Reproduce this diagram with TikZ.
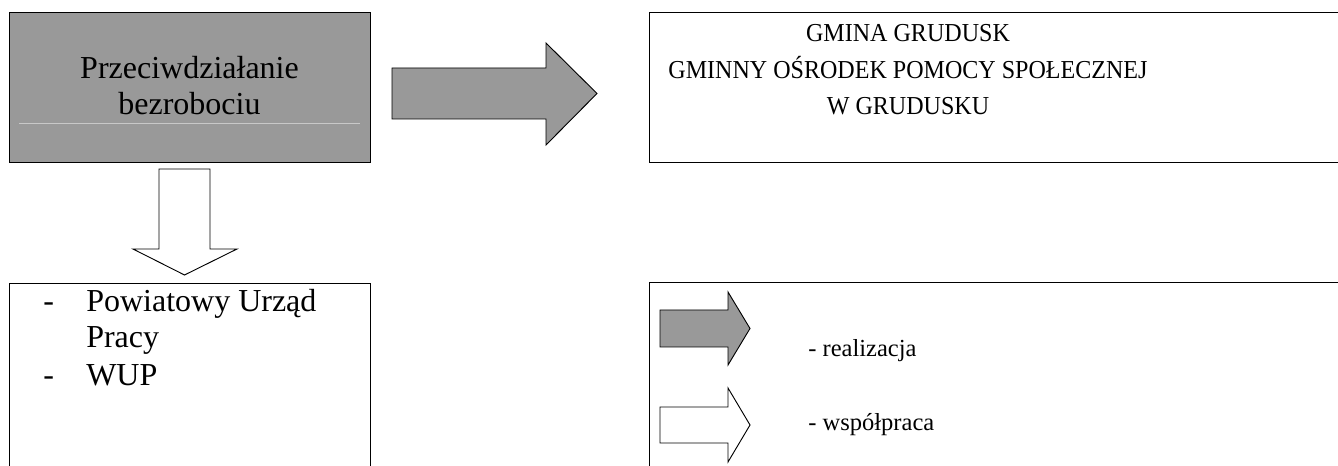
\documentclass[tikz,border=0pt]{standalone}
\usepackage{fontspec}
\setmainfont{Liberation Serif}
\definecolor{boxgray}{HTML}{999999}
\definecolor{faint}{HTML}{C8C8C8}
\newcommand{\narrowtext}[1]{\scalebox{0.93}[1]{#1}}
\begin{document}
\begin{tikzpicture}[x={(0.75pt,0)}, y={(0,-0.75pt)},
  frame/.style={draw=black, line width=1pt, rectangle, inner sep=0pt, anchor=north west},
  blockarrow/.style={draw=black, line width=0.7pt, line join=miter},
  bigtxt/.style={font=\fontsize{24pt}{27pt}\selectfont, inner sep=0pt, anchor=base},
  midtxt/.style={font=\fontsize{19.4pt}{23pt}\selectfont, inner sep=0pt, anchor=base},
  legtxt/.style={font=\fontsize{18.4pt}{22pt}\selectfont, inner sep=0pt, anchor=base west}]
\useasboundingbox (0,0) rectangle (1338,466);
\clip (0,0) rectangle (1338,466);
% boxes
\node[frame, fill=boxgray, minimum width=270.75pt, minimum height=112.5pt] (task) at (9,12) {};
\node[frame, minimum width=525pt, minimum height=112.5pt] (gops) at (649,12) {};
\node[frame, minimum width=270.75pt, minimum height=150pt] (partners) at (9,283) {};
\node[frame, minimum width=525pt, minimum height=150pt] (legend) at (649,282) {};
% faint line inside grey box
\draw[faint, line width=0.5pt] (19,123) -- (360,123);
% texts
\node[bigtxt] (t1) at (189.5,79) {Przeciwdziałanie};
\node[bigtxt] (t2) at (189.5,115) {bezrobociu};
\node[midtxt] (g1) at (908,41.7) {\narrowtext{GMINA GRUDUSK}};
\node[midtxt] (g2) at (908,78.3) {\narrowtext{GMINNY OŚRODEK POMOCY SPOŁECZNEJ}};
\node[midtxt] (g3) at (908,115) {\narrowtext{W GRUDUSKU}};
\node[bigtxt, anchor=base west] (d1) at (43,312) {-};
\node[bigtxt, anchor=base west] (p1) at (86,312) {Powiatowy Urząd};
\node[bigtxt, anchor=base west] (p2) at (86,348) {Pracy};
\node[bigtxt, anchor=base west] (d2) at (43,385) {-};
\node[bigtxt, anchor=base west] (p3) at (86,385) {WUP};
\node[legtxt] (l1) at (808,357) {- realizacja};
\node[legtxt] (l2) at (808,430.5) {- współpraca};
% block arrows
\draw[blockarrow, fill=boxgray] (392,68) -- (546,68) -- (546,43) -- (597,93.5) -- (546,145) -- (546,119) -- (392,119) -- cycle;
\draw[blockarrow, fill=white] (159,169) -- (210,169) -- (210,249) -- (237,249) -- (184.5,275) -- (133,249) -- (159,249) -- cycle;
\draw[blockarrow, fill=boxgray] (660,310) -- (728,310) -- (728,292) -- (750,328.5) -- (728,365) -- (728,347) -- (660,347) -- cycle;
\draw[blockarrow, fill=white] (660,407) -- (728,407) -- (728,388) -- (750,425) -- (728,462) -- (728,443) -- (660,443) -- cycle;
\end{tikzpicture}
\end{document}
